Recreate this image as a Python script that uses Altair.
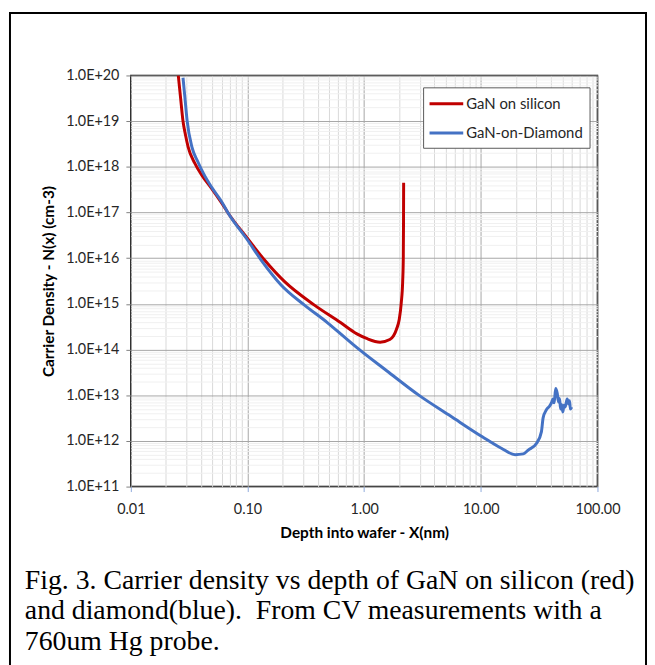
import altair as alt
import pandas as pd

# ---------------- data ----------------
series_names = ["GaN on silicon", "GaN-on-Diamond"]
series_colors = ["#C00000", "#4472C4"]

red_x = [0.0255, 0.0267, 0.0280, 0.0295, 0.0310, 0.0353, 0.0407, 0.0495, 0.0602, 0.0686,
         0.100, 0.140, 0.207, 0.372, 0.627, 0.867, 1.05, 1.37, 1.66, 1.89, 2.00,
         2.08, 2.14, 2.165, 2.175, 2.18]
red_y = [1.0e20, 3.2e19, 1.0e19, 4.8e18, 2.7e18, 1.2e18, 6.5e17, 3.3e17, 1.6e17, 9.5e16,
         2.7e16, 9.1e15, 3.1e15, 9.5e14, 3.9e14, 2.2e14, 1.75e14, 1.45e14, 1.66e14, 2.75e14, 4.6e14,
         1.05e15, 3.2e15, 1.0e16, 6.3e16, 4.5e17]

blue_x = [0.0280, 0.0291, 0.0304, 0.0334, 0.0377, 0.0420, 0.0495, 0.0602, 0.0686,
          0.100, 0.131, 0.194, 0.306, 0.483, 0.690, 0.867, 1.57, 2.98, 5.5, 10.3,
          15.0, 19.7, 23.1, 25.5, 30.1, 33.1, 34.2, 36.5, 38.9, 40.5, 41.5, 42.6,
          43.8, 45.2, 46.4, 47.3, 48.3, 49.4, 50.5, 51.6, 52.8, 55.0, 56.7, 57.6, 58.6, 60.1]
blue_y = [8.9e19, 3.2e19, 1.0e19, 2.7e18, 1.26e18, 7.1e17, 3.5e17, 1.7e17, 9.5e16,
          2.5e16, 9.1e15, 2.6e15, 9.5e14, 3.9e14, 1.8e14, 1.1e14, 3.4e13, 9.8e12, 3.5e12, 1.23e12,
          6.9e11, 5.0e11, 5.2e11, 6.3e11, 8.9e11, 1.6e12, 3.2e12, 4.8e12, 5.8e12, 7.0e12, 8.3e12, 6.8e12,
          1.4e13, 1.1e13, 7.1e12, 8.5e12, 5.0e12, 6.2e12, 4.3e12, 6.0e12, 5.5e12, 8.3e12, 6.4e12, 7.6e12, 5.0e12, 5.5e12]

x_major = [0.01, 0.1, 1, 10, 100]
y_major_exp = list(range(11, 21))

x_title = "Depth into wafer - X(nm)"
y_title = "Carrier Density - N(x) (cm-3)"

caption_lines = [
    "Fig. 3. Carrier density vs depth of GaN on silicon (red)",
    "and diamond(blue).\u00a0 From CV measurements with a",
    "760um Hg probe.",
]

# ---------------- build tables ----------------
rows = []
for i, (x, y) in enumerate(zip(red_x, red_y)):
    rows.append({"series": series_names[0], "x": x, "y": y, "order": i})
for i, (x, y) in enumerate(zip(blue_x, blue_y)):
    rows.append({"series": series_names[1], "x": x, "y": y, "order": i})
df = pd.DataFrame(rows)

x_grid_values = [m * k for m in x_major[:-1] for k in range(1, 10)] + [x_major[-1]]
y_grid_values = [k * 10.0 ** e for e in y_major_exp[:-1] for k in range(1, 10)] + [10.0 ** y_major_exp[-1]]

MAJOR = "abs(log(datum.value)/LN10 - round(log(datum.value)/LN10)) < 0.001"
FONT = "Lato"

x_axis = alt.Axis(
    values=x_grid_values,
    title=x_title,
    labelExpr=f"({MAJOR}) ? format(datum.value, '.2f') : ''",
    labelOverlap=False,
    labelFlush=False,
    gridColor={"condition": {"test": MAJOR, "value": "#a6a6a6"}, "value": "#d9d9d9"},
    gridWidth=1,
    tickColor="#8faadc",
    tickOpacity={"condition": {"test": MAJOR, "value": 1}, "value": 0},
    tickSize=5,
    domain=False,
    labelFont=FONT,
    labelFontSize=14.5,
    labelColor="#262626",
    labelPadding=11,
    titleFont=FONT,
    titleFontSize=15.5,
    titleFontWeight="bold",
    titleColor="#000000",
    titlePadding=10,
)

y_axis = alt.Axis(
    values=y_grid_values,
    title=y_title,
    labelExpr=f"({MAJOR}) ? '1.0E+' + round(log(datum.value)/LN10) : ''",
    labelOverlap=False,
    labelFlush=False,
    gridColor={"condition": {"test": MAJOR, "value": "#a6a6a6"}, "value": "#f0f0f0"},
    gridWidth=1,
    tickColor="#7f7f7f",
    tickOpacity={"condition": {"test": MAJOR, "value": 1}, "value": 0},
    tickSize=5,
    domain=False,
    labelFont=FONT,
    labelFontSize=14.5,
    labelColor="#262626",
    labelPadding=7,
    titleFont=FONT,
    titleFontSize=15.5,
    titleFontWeight="bold",
    titleColor="#000000",
    titlePadding=9,
)

lines = alt.Chart(df).mark_line(strokeWidth=3, clip=True, interpolate="monotone").encode(
    x=alt.X("x:Q", scale=alt.Scale(type="log", domain=[0.01, 100], nice=False), axis=x_axis),
    y=alt.Y("y:Q", scale=alt.Scale(type="log", domain=[1e11, 1e20], nice=False), axis=y_axis),
    color=alt.Color(
        "series:N",
        scale=alt.Scale(domain=series_names, range=series_colors),
        legend=alt.Legend(
            title=None,
            orient="none",
            legendX=295,
            legendY=12,
            symbolType="M-2,0H2",
            symbolSize=289,
            symbolStrokeWidth=3,
            symbolOffset=7,
            labelFont=FONT,
            labelFontSize=15,
            labelColor="#262626",
            labelOffset=10,
            padding=6.5,
            rowPadding=11.5,
            strokeColor="#595959",
            fillColor="white",
        ),
    ),
    order="order:Q",
)

frame = alt.Chart(pd.DataFrame({"f": [0]})).mark_rect(
    fill="transparent", stroke="black", strokeWidth=2
).encode(
    x=alt.value(-122), x2=alt.value(520), y=alt.value(-63), y2=alt.value(640)
)

layers = [frame, lines]
for i, line in enumerate(caption_lines):
    layers.append(
        alt.Chart(pd.DataFrame({"t": [line]})).mark_text(
            align="left", baseline="alphabetic", font="Liberation Serif",
            fontSize=28, color="black"
        ).encode(text="t:N", x=alt.value(-107), y=alt.value(518 + 31 * i))
    )

chart = alt.layer(*layers).properties(
    width=471,
    height=415,
    padding={"left": 124, "top": 65, "right": 50, "bottom": 177},
    autosize=alt.AutoSizeParams(type="none"),
).configure_view(stroke="black", strokeWidth=1.5)

chart.save("out.html", embed_options={"renderer": "svg", "actions": False})
